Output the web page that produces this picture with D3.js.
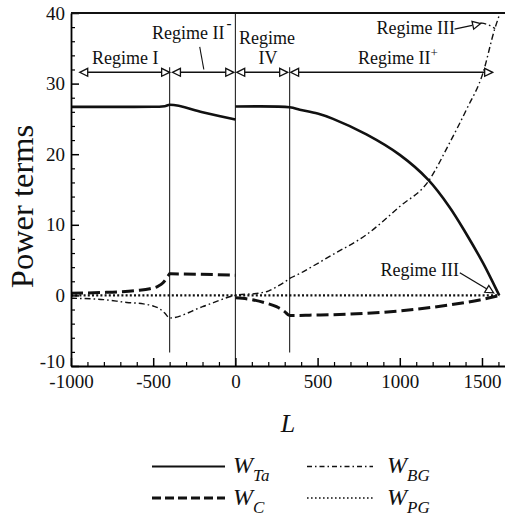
<!DOCTYPE html>
<html>
<head>
<meta charset="utf-8">
<script src="https://cdn.jsdelivr.net/npm/d3@7/dist/d3.min.js"></script>
<style>
  html, body { margin: 0; padding: 0; background: #fff; }
  svg, svg text { font-family: "Liberation Serif", "DejaVu Serif", "Noto Serif", "Times New Roman", Times, serif !important; }
</style>
</head>
<body>
<svg id="chart" width="505" height="515"></svg>
<script>
// ---------------- DATA ----------------
const xTicksMajor = [-1000, -500, 0, 500, 1000, 1500];
const yTicksMajor = [-10, 0, 10, 20, 30, 40];

// W_Ta (solid)
const wTa_seg1 = [[-1000,26.7],[-700,26.7],[-500,26.72],[-430,26.8],[-400,27.0],[-200,25.95],[0,24.9]];
const wTa_seg2 = [[0,26.75],[330,26.65],[392,26.3],[500,25.75],[594,25.0],[797,22.8],[1000,19.9],[1172,16.4],[1303,12.5],[1405,8.7],[1506,4.6],[1567,1.8],[1605,0]];
// W_C (thick dashed)
const wC_seg1 = [[-1000,0.3],[-900,0.35],[-800,0.42],[-700,0.52],[-600,0.7],[-520,0.95],[-470,1.3],[-440,1.8],[-420,2.4],[-405,2.9],[-400,3.05],[0,2.85]];
const wC_seg2 = [[0,-0.35],[100,-0.6],[188,-1.1],[250,-1.6],[300,-2.3],[325,-2.8],[335,-2.85],[450,-2.8],[696,-2.65],[1000,-2.2],[1303,-1.35],[1486,-0.64],[1608,0]];
// W_BG (dash-dot)
const wBG_seg1 = [[-1000,-0.4],[-800,-0.6],[-660,-1.0],[-560,-1.2],[-500,-1.5],[-460,-1.9],[-430,-2.5],[-400,-3.2],[-200,-1.6],[0,0],[150,0.35],[200,0.6],[250,1.2],[300,1.9],[330,2.4],[392,3.1],[453,3.9],[594,5.8],[797,8.6],[1000,12.6],[1172,16.1],[1303,21.6],[1405,26.3],[1506,31.5],[1577,37.7],[1618,40.5]];
const wBG_seg2 = [[1490,38.6],[1530,38.4],[1580,37.8]];
// W_PG (dotted)
const wPG_seg1 = [[-1000,0],[1608,0]];

// regime boundaries
const regimeBounds = [-400, 0, 330];
// regime arrows [from, to]
const regimeArrows = [[-947,-400],[-383,-10],[8,318],[336,1565]];

const legendNames = ["Ta", "C", "BG", "PG"];

// ---------------- LAYOUT ----------------
const FONT = "'Liberation Serif', 'DejaVu Serif', 'Noto Serif', 'Times New Roman', serif";
const svg = d3.select("#chart").attr("font-family", FONT);
const x = d3.scaleLinear().domain([-1000, 1640]).range([71, 505]);
const y = d3.scaleLinear().domain([-10, 40]).range([366, 13]);

const styles = {
  Ta: {w: 2.6, dash: null},
  C:  {w: 3.0, dash: "12,5"},
  BG: {w: 1.4, dash: "6,3,1.6,3"},
  PG: {w: 2.2, dash: "2,2.2"}
};

svg.append("defs").append("clipPath").attr("id","clip")
  .append("rect").attr("x", 71).attr("y", 13).attr("width", 434).attr("height", 353);

const plot = svg.append("g").attr("clip-path", "url(#clip)");

regimeBounds.forEach(b => {
  const full = b === 0;
  plot.append("line")
    .attr("x1", x(b)).attr("x2", x(b))
    .attr("y1", full ? y(40) : y(32.3))
    .attr("y2", full ? y(-10) : y(-8.1))
    .attr("stroke", "#222").attr("stroke-width", 1.1);
});

const lineMono = d3.line().x(d => x(d[0])).y(d => y(d[1])).curve(d3.curveMonotoneX);
const lineSmooth = d3.line().x(d => x(d[0])).y(d => y(d[1])).curve(d3.curveCatmullRom.alpha(0.5));

function drawSeries(segs, key, gen) {
  const s = styles[key];
  segs.forEach((seg, i) => {
    plot.append("path").datum(seg)
      .attr("d", (gen && gen[i]) || lineMono)
      .attr("fill", "none")
      .attr("stroke", "#111")
      .attr("stroke-width", s.w)
      .attr("stroke-dasharray", s.dash)
      .attr("stroke-linejoin", "round");
  });
}
drawSeries([wPG_seg1], "PG");
drawSeries([wBG_seg1, wBG_seg2], "BG");
drawSeries([wC_seg1, wC_seg2], "C");
drawSeries([wTa_seg1, wTa_seg2], "Ta", [lineMono, lineSmooth]);

// ---------------- AXES ----------------
const xMinor = d3.range(-1000, 1641, 100).filter(v => !xTicksMajor.includes(v));
const yMinor = d3.range(-10, 40.1, 2).filter(v => !yTicksMajor.includes(v));
const fmt = d => String(d);

const gx = svg.append("g").attr("transform", `translate(0,${y(-10)})`)
  .call(d3.axisBottom(x).tickValues(xTicksMajor).tickSizeInner(-8).tickSizeOuter(0).tickFormat(fmt));
gx.attr("font-family", FONT).attr("font-size", 19);
gx.select(".domain").attr("stroke-width", 1.8);
gx.selectAll(".tick line").attr("stroke-width", 1.5);
gx.selectAll("text").attr("y", 9).attr("dy", "0.71em").attr("fill", "#111");
const gxm = svg.append("g").attr("transform", `translate(0,${y(-10)})`)
  .call(d3.axisBottom(x).tickValues(xMinor).tickSizeInner(-4).tickSizeOuter(0).tickFormat(""));
gxm.select(".domain").remove();
gxm.selectAll(".tick line").attr("stroke-width", 1.2);

const gy = svg.append("g").attr("transform", `translate(${x(-1000)},0)`)
  .call(d3.axisLeft(y).tickValues(yTicksMajor).tickSizeInner(-8).tickSizeOuter(0).tickFormat(fmt));
gy.attr("font-family", FONT).attr("font-size", 19);
gy.select(".domain").attr("stroke-width", 1.8);
gy.selectAll(".tick line").attr("stroke-width", 1.5);
gy.selectAll("text").attr("x", -6).attr("fill", "#111");
gy.selectAll(".tick").filter(d => d === -10).select("text").attr("dy", "0.1em");
const gym = svg.append("g").attr("transform", `translate(${x(-1000)},0)`)
  .call(d3.axisLeft(y).tickValues(yMinor).tickSizeInner(-4).tickSizeOuter(0).tickFormat(""));
gym.select(".domain").remove();
gym.selectAll(".tick line").attr("stroke-width", 1.2);

svg.append("line").attr("x1", x(-1000)).attr("x2", 505).attr("y1", y(40)).attr("y2", y(40))
  .attr("stroke", "#111").attr("stroke-width", 1.8);

// axis titles
svg.append("text").attr("transform", `translate(33,206.5) rotate(-90)`)
  .attr("text-anchor", "middle").attr("font-size", 32.5).attr("fill", "#111").text("Power terms");
svg.append("text").attr("x", 288).attr("y", 432).attr("text-anchor", "middle")
  .attr("font-size", 26).attr("font-style", "italic").attr("fill", "#111").text("L");

// ---------------- ANNOTATIONS ----------------
const ann = svg.append("g").attr("fill", "none").attr("stroke", "#111");
function openHead(tipX, tipY, fromX, fromY) {
  const ang = Math.atan2(tipY - fromY, tipX - fromX);
  const len = 8, hw = 4;
  const bx = tipX - len * Math.cos(ang), by = tipY - len * Math.sin(ang);
  const px = -Math.sin(ang) * hw, py = Math.cos(ang) * hw;
  ann.append("path")
    .attr("d", `M${tipX},${tipY}L${bx+px},${by+py}L${bx-px},${by-py}Z`)
    .attr("fill", "#fff").attr("stroke", "#111").attr("stroke-width", 1.3);
}
const arrowY = y(31.6);
regimeArrows.forEach(([a, b]) => {
  ann.append("line").attr("x1", x(a)+6).attr("x2", x(b)-6).attr("y1", arrowY).attr("y2", arrowY)
    .attr("stroke-width", 1.5);
  openHead(x(a), arrowY, x(b), arrowY);
  openHead(x(b), arrowY, x(a), arrowY);
});
ann.append("line").attr("x1", x(-217)).attr("y1", y(35.2)).attr("x2", x(-192)).attr("y2", y(32.0)).attr("stroke-width", 1.1);
ann.append("line").attr("x1", x(1333)).attr("y1", y(37.7)).attr("x2", x(1440)).attr("y2", y(38.25)).attr("stroke-width", 1.3);
openHead(x(1492), y(38.5), x(1333), y(37.7));
ann.append("line").attr("x1", x(1365)).attr("y1", y(3.2)).attr("x2", x(1530)).attr("y2", y(0.9)).attr("stroke-width", 1.3);
openHead(x(1571), y(0.35), x(1365), y(3.2));

const txt = svg.append("g").attr("font-size", 18).attr("fill", "#111");
txt.append("text").attr("x", x(-670)).attr("y", 64).attr("text-anchor", "middle").text("Regime I");
const t2 = txt.append("text").attr("x", 152).attr("y", 38.5);
t2.append("tspan").text("Regime II");
t2.append("tspan").attr("dy", -11).attr("dx", 2).attr("font-size", 15).attr("font-weight", "bold").text("-");
txt.append("text").attr("x", 267).attr("y", 44).attr("text-anchor", "middle").text("Regime");
txt.append("text").attr("x", 268).attr("y", 64).attr("text-anchor", "middle").text("IV");
const t4 = txt.append("text").attr("x", 358).attr("y", 64);
t4.append("tspan").text("Regime II");
t4.append("tspan").attr("dy", -7).attr("font-size", 13).text("+");
txt.append("text").attr("x", 455).attr("y", 34).attr("text-anchor", "end").text("Regime III");
txt.append("text").attr("x", 459).attr("y", 276).attr("text-anchor", "end").text("Regime III");

// ---------------- LEGEND ----------------
const legPos = [[152, 466.5], [152, 498], [307, 466.5], [307, 498]];
const leg = svg.append("g");
legendNames.forEach((k, i) => {
  const [lx, ly] = legPos[i];
  const len = i < 2 ? 73 : 66;
  leg.append("line").attr("x1", lx).attr("x2", lx + len).attr("y1", ly).attr("y2", ly)
    .attr("stroke", "#111").attr("stroke-width", k === "Ta" ? 2 : (k === "C" ? 3 : (k === "PG" ? 1.6 : 1.3)))
    .attr("stroke-dasharray", k === "C" ? "9,4" : (k === "BG" ? "5,3,1.5,3" : (k === "PG" ? "1.6,2.4" : null)));
  const t = leg.append("text").attr("x", i < 2 ? 233 : 387).attr("y", ly + 6.5)
    .attr("font-size", 24).attr("font-style", "italic").attr("fill", "#111");
  t.append("tspan").text("W");
  t.append("tspan").attr("dy", 8).attr("font-size", 17).text(k);
});
</script>
</body>
</html>
